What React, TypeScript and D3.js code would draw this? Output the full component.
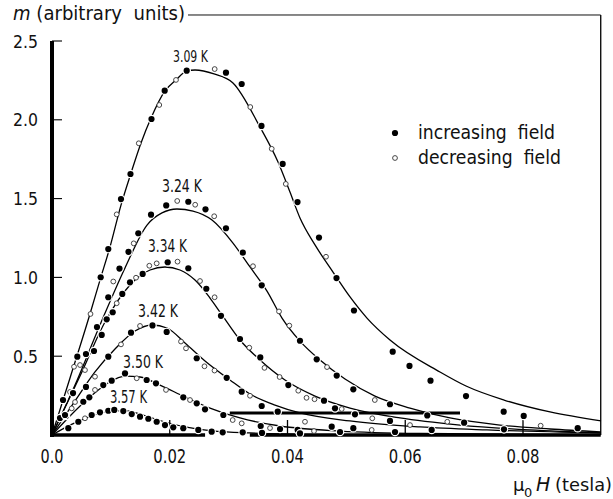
import React from "react";
import * as d3 from "d3";

// ---------- axis ticks ----------
const xTicks = [0.0, 0.02, 0.04, 0.06, 0.08];
const xTickLabels = ["0.0", "0.02", "0.04", "0.06", "0.08"];
const yTicks = [0.5, 1.0, 1.5, 2.0, 2.5];
const yTickLabels = ["0.5", "1.0", "1.5", "2.0", "2.5"];

// ---------- temperatures ----------
const temperatures = ["3.09 K", "3.24 K", "3.34 K", "3.42 K", "3.50 K", "3.57 K"];
const labelAnchors = [
  [0.02055, 2.367],
  [0.01868, 1.542],
  [0.01631, 1.161],
  [0.01461, 0.749],
  [0.01206, 0.425],
  [0.00985, 0.203],
];

// ---------- fitted curves (mu0 H [T], m) ----------
const fit309 = [[0,0],[0.00306,0.362],[0.00645,0.768],[0.00815,0.983],[0.00985,1.193],[0.01172,1.459],[0.01342,1.662],[0.01512,1.853],[0.01682,2.011],[0.01919,2.183],[0.02106,2.253],[0.02293,2.310],[0.02429,2.316],[0.02752,2.291],[0.03074,2.234],[0.03533,1.954],[0.03839,1.732],[0.04042,1.542],[0.04212,1.377],[0.04467,1.206],[0.04773,1.034],[0.05062,0.876],[0.0535,0.742],[0.05741,0.603],[0.0659,0.400],[0.07032,0.311],[0.07677,0.222],[0.08459,0.146],[0.09325,0.089]];
const fit324 = [[0,0],[0.00391,0.317],[0.00815,0.698],[0.0124,1.060],[0.01614,1.332],[0.01868,1.409],[0.02123,1.434],[0.02395,1.421],[0.02718,1.364],[0.03074,1.218],[0.03363,1.066],[0.03652,0.913],[0.03907,0.742],[0.04212,0.596],[0.04552,0.476],[0.04977,0.355],[0.05486,0.247],[0.06081,0.171],[0.0676,0.108],[0.07609,0.063],[0.08459,0.038],[0.09325,0.019]];
const fit334 = [[0,0],[0.00476,0.374],[0.0090,0.717],[0.01325,0.952],[0.01665,1.047],[0.01919,1.066],[0.02174,1.047],[0.02429,0.983],[0.02684,0.869],[0.02887,0.762],[0.03193,0.603],[0.03533,0.476],[0.03957,0.349],[0.04467,0.247],[0.05062,0.171],[0.05911,0.108],[0.0693,0.063],[0.08119,0.032],[0.09325,0.013]];
const fit342 = [[0,0],[0.00391,0.216],[0.0073,0.400],[0.0107,0.546],[0.0141,0.660],[0.01699,0.698],[0.01953,0.679],[0.02259,0.584],[0.02599,0.470],[0.03023,0.349],[0.03363,0.260],[0.03788,0.190],[0.04212,0.140],[0.05062,0.089],[0.0625,0.051],[0.07388,0.032],[0.09325,0.013]];
const fit350 = [[0,0],[0.00306,0.121],[0.00645,0.241],[0.00951,0.330],[0.0124,0.374],[0.01495,0.368],[0.01834,0.317],[0.02259,0.241],[0.02684,0.171],[0.03193,0.108],[0.03873,0.057],[0.04892,0.025],[0.0625,0.010],[0.09325,0.002]];
const fit357 = [[0,0],[0.00306,0.063],[0.00645,0.117],[0.00985,0.152],[0.0124,0.155],[0.01495,0.133],[0.01834,0.092],[0.02259,0.051],[0.02769,0.025],[0.03363,0.013],[0.04552,0.003],[0.0625,0]];

// ---------- increasing field (filled) ----------
const inc309 = [[0.00187,0.222],[0.0043,0.497],[0.00827,1.001],[0.00956,1.180],[0.01172,1.497],[0.01333,1.656],[0.0169,2.005],[0.01914,2.185],[0.02288,2.312],[0.02955,2.299],[0.03222,2.227],[0.03558,1.961],[0.03918,1.720],[0.0417,1.478],[0.04535,1.253],[0.04832,0.996],[0.05129,0.790],[0.05787,0.529],[0.06072,0.438],[0.06429,0.345],[0.07032,0.247],[0.07672,0.148],[0.08012,0.121],[0.08929,0.043]];
const inc324 = [[0.00577,0.514],[0.00764,0.685],[0.00956,0.874],[0.01146,1.056],[0.01299,1.162],[0.01466,1.280],[0.01682,1.398],[0.0194,1.457],[0.02315,1.480],[0.02607,1.432],[0.02955,1.312],[0.03241,1.157],[0.03562,0.950],[0.04212,0.598],[0.04496,0.480],[0.04836,0.377],[0.05118,0.290],[0.05741,0.195],[0.06374,0.124],[0.07,0.078],[0.07677,0.036]];
const inc334 = [[0.00136,0.108],[0.00357,0.266],[0.00713,0.533],[0.00844,0.635],[0.00929,0.734],[0.01031,0.779],[0.01194,0.895],[0.01325,0.969],[0.0154,1.022],[0.01965,1.096],[0.02315,1.058],[0.02621,0.928],[0.0287,0.756],[0.03193,0.609],[0.03538,0.492],[0.04014,0.317],[0.0462,0.218],[0.04807,0.169],[0.05146,0.131],[0.05741,0.089]];
const inc342 = [[0.00238,0.121],[0.00577,0.305],[0.00956,0.497],[0.01342,0.649],[0.01707,0.695],[0.01948,0.654],[0.02458,0.487],[0.02967,0.363],[0.03222,0.275],[0.03562,0.184],[0.03834,0.148],[0.04751,0.053],[0.05118,0.043],[0.06449,0.032]];
const inc350 = [[0.00221,0.127],[0.00532,0.211],[0.00634,0.239],[0.00871,0.317],[0.01014,0.345],[0.0124,0.391],[0.01608,0.349],[0.01766,0.328],[0.0223,0.239],[0.02458,0.201],[0.02599,0.163],[0.0291,0.127],[0.03545,0.057],[0.03873,0.038],[0.04173,0.032],[0.04892,0.019],[0.05826,0.019]];
const inc357 = [[0.00277,0.043],[0.00447,0.084],[0.00674,0.127],[0.00815,0.144],[0.00956,0.154],[0.01058,0.159],[0.01211,0.152],[0.01354,0.133],[0.01495,0.116],[0.01636,0.103],[0.01778,0.084],[0.01919,0.063],[0.0206,0.049],[0.0223,0.043],[0.02485,0.032],[0.02712,0.021],[0.02899,0.017],[0.03239,0.017],[0.03567,0.013],[0.04212,0.010]];

// ---------- decreasing field (open) ----------
const dec309 = [[0.00374,0.433],[0.00654,0.768],[0.01099,1.400],[0.01474,1.851],[0.01822,2.094],[0.02106,2.253],[0.02763,2.322],[0.03368,2.081],[0.03732,1.816],[0.03971,1.593],[0.04654,1.131]];
const dec324 = [[0.00306,0.273],[0.00476,0.444],[0.01041,0.974],[0.01388,1.216],[0.02127,1.485],[0.02432,1.461],[0.02755,1.388],[0.03414,1.071],[0.03856,0.784],[0.04031,0.694],[0.04671,0.431],[0.05483,0.222],[0.06714,0.084],[0.083,0.059]];
const dec334 = [[0.0056,0.412],[0.01099,0.836],[0.01427,0.998],[0.01653,1.074],[0.01778,1.089],[0.02132,1.100],[0.02514,0.977],[0.02762,0.874],[0.03351,0.554],[0.03609,0.426],[0.03866,0.368],[0.04183,0.281],[0.04323,0.236],[0.04459,0.227],[0.04921,0.165],[0.0544,0.106],[0.06081,0.063]];
const dec342 = [[0.00391,0.209],[0.0073,0.370],[0.01172,0.575],[0.01495,0.692],[0.02191,0.593],[0.02276,0.550],[0.0259,0.436],[0.0276,0.409],[0.03363,0.249],[0.04297,0.084],[0.0543,0.032]];
const dec350 = [[0.00335,0.169],[0.0073,0.286],[0.01439,0.360],[0.01936,0.286],[0.02344,0.222],[0.03069,0.095],[0.03222,0.074],[0.03703,0.044],[0.0445,0.025]];
const dec357 = [[0.0056,0.106]];

const legendLabels = ["increasing  field", "decreasing  field"];

const FONT = "'DejaVu Sans', 'Liberation Sans', sans-serif";

export default function App() {
  const x = d3.scaleLinear().domain([0, 0.08]).range([52, 523]);
  const y = d3.scaleLinear().domain([0, 2.5]).range([435, 41]);
  const xEnd = 0.0932;
  const yTop = 2.665;

  const line = d3
    .line<number[]>()
    .x((d) => x(d[0]))
    .y((d) => y(d[1]))
    .curve(d3.curveMonotoneX);

  const fits = [fit309, fit324, fit334, fit342, fit350, fit357];
  const incs = [inc309, inc324, inc334, inc342, inc350, inc357];
  const decs = [dec309, dec324, dec334, dec342, dec350, dec357];
  const labelW = [35, 40, 39, 40, 40, 37];

  const txt = (props: any, content: any, len: number) => (
    <text
      {...props}
      textLength={len}
      lengthAdjust="spacingAndGlyphs"
      style={{ whiteSpace: "pre" }}
    >
      {content}
    </text>
  );

  return (
    <svg
      width={613}
      height={499}
      viewBox="0 0 613 499"
      style={{ position: "absolute", left: 0, top: 0, background: "#fff" }}
      fontFamily={FONT}
    >
      <rect x={0} y={0} width={613} height={499} fill="#fff" />

      {/* frame: top and right thin lines */}
      <line x1={188} x2={x(xEnd)} y1={y(yTop)} y2={y(yTop)} stroke="#111" strokeWidth={1} />
      <line x1={x(xEnd)} x2={x(xEnd)} y1={y(yTop)} y2={y(0)} stroke="#111" strokeWidth={1.4} />

      {/* y axis (thick) */}
      <line x1={x(0)} x2={x(0)} y1={y(2.5)} y2={y(0) + 2} stroke="#000" strokeWidth={4} />
      {yTicks.map((t, i) => (
        <g key={"yt" + i}>
          <line x1={x(0)} x2={x(0) + 10} y1={y(t)} y2={y(t)} stroke="#000" strokeWidth={1.1} />
          {txt({ x: 38, y: y(t) + 6.5, fontSize: 18, textAnchor: "end", fill: "#111" }, yTickLabels[i], 25)}
        </g>
      ))}

      {/* x axis (thick, broken as in the scan) */}
      <line x1={x(0) - 2} x2={x(0.026)} y1={y(0)} y2={y(0)} stroke="#000" strokeWidth={3.6} />
      <line x1={x(0.0336)} x2={x(xEnd)} y1={y(0)} y2={y(0)} stroke="#000" strokeWidth={3.6} />
      <line x1={x(0.0302)} x2={x(0.0693)} y1={y(0.14)} y2={y(0.14)} stroke="#000" strokeWidth={3} />
      {xTicks.map((t, i) => (
        <g key={"xt" + i}>
          {t > 0 && (
            <line x1={x(t)} x2={x(t)} y1={y(0)} y2={y(0) - 15} stroke="#000" strokeWidth={1.3} />
          )}
          {txt(
            { x: x(t), y: 463, fontSize: 20, textAnchor: "middle", fill: "#111" },
            xTickLabels[i],
            xTickLabels[i].length === 3 ? 23 : 33
          )}
        </g>
      ))}

      {/* axis titles */}
      {txt(
        { x: 13, y: 20, fontSize: 19, fill: "#111" },
        <>
          <tspan fontStyle="italic">m</tspan>
          <tspan> (arbitrary  units)</tspan>
        </>,
        172
      )}
      <text x={513} y={491} fontSize={18} fill="#111">μ</text>
      <text x={524} y={497} fontSize={13} fill="#111">0</text>
      <text x={536} y={491} fontSize={19} fontStyle="italic" fill="#111">H</text>
      {txt({ x: 555, y: 491, fontSize: 18, fill: "#111" }, "(tesla)", 57)}

      {/* fitted curves */}
      {fits.map((f, i) => (
        <path key={"f" + i} d={line(f) || ""} fill="none" stroke="#000" strokeWidth={1.3} />
      ))}

      {/* data points */}
      {decs.map((arr, i) =>
        arr.map((d, j) => (
          <circle
            key={"d" + i + "-" + j}
            cx={x(d[0])}
            cy={y(d[1])}
            r={2.4}
            fill="#fff"
            stroke="#333"
            strokeWidth={0.9}
          />
        ))
      )}
      {incs.map((arr, i) =>
        arr.map((d, j) => (
          <circle
            key={"i" + i + "-" + j}
            cx={x(d[0])}
            cy={y(d[1])}
            r={3.1}
            fill="#000"
            stroke="#fff"
            strokeWidth={2.4}
            style={{ paintOrder: "stroke" }}
          />
        ))
      )}

      {/* curve labels */}
      {temperatures.map((t, i) =>
        <g key={"l" + i}>
          {txt(
            { x: x(labelAnchors[i][0]), y: y(labelAnchors[i][1]), fontSize: i === 0 ? 15 : 18, fill: "#111" },
            t,
            labelW[i]
          )}
        </g>
      )}

      {/* legend */}
      <circle cx={395} cy={133} r={3.1} fill="#000" />
      <circle cx={395} cy={158} r={2.4} fill="#fff" stroke="#333" strokeWidth={0.9} />
      {txt({ x: 418, y: 139, fontSize: 19, fill: "#111" }, legendLabels[0], 137)}
      {txt({ x: 418, y: 164, fontSize: 19, fill: "#111" }, legendLabels[1], 143)}
    </svg>
  );
}
